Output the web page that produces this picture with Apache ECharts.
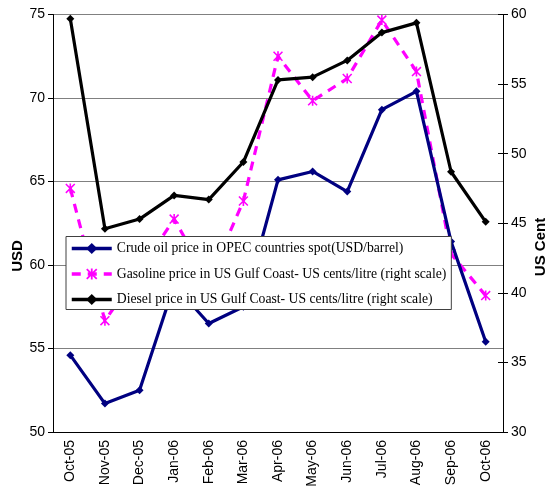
<!DOCTYPE html>
<html>
<head>
<meta charset="utf-8">
<script src="https://cdn.jsdelivr.net/npm/echarts@6/dist/echarts.min.js"></script>
<style>
html,body{margin:0;padding:0;background:#fff;}
#chart{width:552px;height:492px;}
</style>
</head>
<body>
<div id="chart"></div>
<script>
var categories = ['Oct-05','Nov-05','Dec-05','Jan-06','Feb-06','Mar-06','Apr-06','May-06','Jun-06','Jul-06','Aug-06','Sep-06','Oct-06'];
var crudeOil = [54.6,51.7,52.5,58.8,56.5,57.5,65.1,65.6,64.4,69.3,70.4,61.4,55.4];
var gasoline = [47.5,38.0,41.6,45.3,40.9,46.6,57.0,53.8,55.4,59.6,55.9,42.8,39.8];
var diesel = [59.7,44.6,45.3,47.0,46.7,49.4,55.3,55.5,56.7,58.7,59.4,48.7,45.1];
var seriesNames = [
  'Crude oil price in OPEC countries spot(USD/barrel)',
  'Gasoline price in US Gulf Coast- US cents/litre (right scale)',
  'Diesel price in US Gulf Coast- US cents/litre (right scale)'
];
var leftAxisName = 'USD';
var rightAxisName = 'US Cent';

var asterisk = 'path://M4.2 0 L5.8 0 L5.8 10 L4.2 10 Z M0 1.1 L1.1 0 L10 8.9 L8.9 10 Z M8.9 0 L10 1.1 L1.1 10 L0 8.9 Z';
var sansFont = '"Liberation Sans", Arial, sans-serif';
var serifFont = '"Liberation Serif", "Times New Roman", serif';

var chart = echarts.init(document.getElementById('chart'), null, {renderer: 'canvas'});
chart.setOption({
  animation: false,
  backgroundColor: '#ffffff',
  grid: {left: 53, right: 49, top: 14.5, bottom: 60, containLabel: false},
  legend: {
    orient: 'vertical',
    left: 66, top: 236.5,
    padding: [5, 5, 3, 4],
    itemWidth: 40, itemHeight: 14, itemGap: 11.5,
    backgroundColor: '#ffffff',
    borderColor: '#404040', borderWidth: 1,
    lineStyle: {width: 3.5},
    textStyle: {fontFamily: serifFont, fontSize: 13.7, color: '#000'},
    data: seriesNames
  },
  xAxis: {
    type: 'category',
    data: categories,
    boundaryGap: true,
    axisLine: {lineStyle: {color: '#000', width: 1}},
    axisTick: {length: 5, lineStyle: {color: '#000'}},
    axisLabel: {rotate: 90, margin: 8, color: '#000', fontFamily: sansFont, fontSize: 14, interval: 0}
  },
  yAxis: [
    {
      type: 'value', min: 50, max: 75, interval: 5, position: 'left',
      axisLine: {show: true, lineStyle: {color: '#000'}},
      axisTick: {show: true, length: 5, lineStyle: {color: '#000'}},
      axisLabel: {color: '#000', fontFamily: sansFont, fontSize: 14, margin: 8},
      splitLine: {show: true, lineStyle: {color: '#808080', width: 1}}
    },
    {
      type: 'value', min: 30, max: 60, interval: 5, position: 'right',
      axisLine: {show: true, lineStyle: {color: '#000'}},
      axisTick: {show: true, length: 5, lineStyle: {color: '#000'}},
      axisLabel: {color: '#000', fontFamily: sansFont, fontSize: 14, margin: 8},
      splitLine: {show: false}
    },
    {
      type: 'value', min: 30, max: 60, interval: 5, position: 'right',
      axisLine: {show: false},
      axisTick: {show: true, inside: true, length: 5, lineStyle: {color: '#000'}},
      axisLabel: {show: false},
      splitLine: {show: false}
    }
  ],
  graphic: [
    {type: 'text', x: 18, y: 256, rotation: Math.PI / 2,
     style: {text: leftAxisName, font: 'bold 15px ' + sansFont, fill: '#000', textAlign: 'center', textVerticalAlign: 'middle'}},
    {type: 'text', x: 541, y: 247, rotation: Math.PI / 2,
     style: {text: rightAxisName, font: 'bold 15px ' + sansFont, fill: '#000', textAlign: 'center', textVerticalAlign: 'middle'}}
  ],
  series: [
    {
      name: seriesNames[0], type: 'line', yAxisIndex: 0, data: crudeOil,
      symbol: 'diamond', symbolSize: 8, showSymbol: true,
      lineStyle: {color: '#000080', width: 3.2},
      itemStyle: {color: '#000080'}, z: 3
    },
    {
      name: seriesNames[1], type: 'line', yAxisIndex: 1, data: gasoline,
      symbol: asterisk, symbolSize: 10,
      lineStyle: {color: '#ff00ff', width: 3.2, type: [9, 7]},
      itemStyle: {color: '#ff00ff'}, z: 2
    },
    {
      name: seriesNames[2], type: 'line', yAxisIndex: 1, data: diesel,
      symbol: 'diamond', symbolSize: 8,
      lineStyle: {color: '#000000', width: 3.2},
      itemStyle: {color: '#000000'}, z: 3
    }
  ]
});
</script>
</body>
</html>
